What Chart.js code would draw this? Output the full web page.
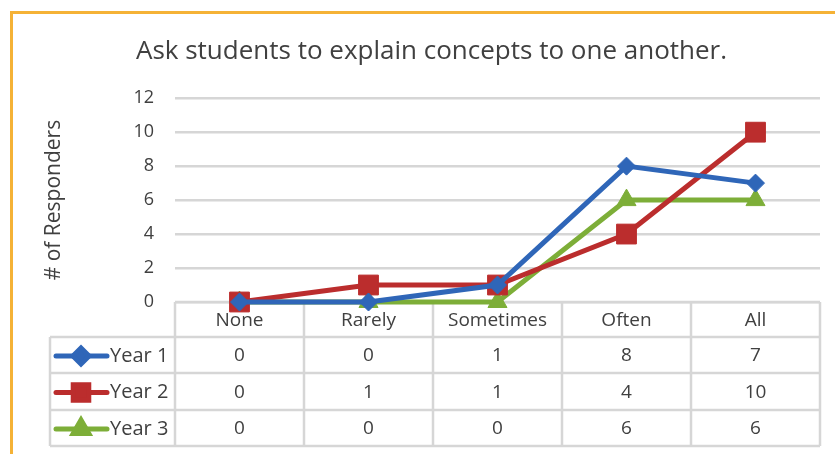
<!DOCTYPE html>
<html>
<head>
<meta charset="utf-8">
<script src="https://cdn.jsdelivr.net/npm/chart.js@4"></script>
<style>
  html, body { margin: 0; padding: 0; background: #fff; }
  #wrap { position: relative; width: 835px; height: 454px; }
  #frame { position: absolute; left: 10px; top: 11px; right: -5px; bottom: -5px;
           border-top: 3px solid #f5b236; border-left: 3px solid #f5b236; pointer-events: none; }
</style>
</head>
<body>
<div id="wrap">
  <canvas id="chart" width="835" height="454"></canvas>
  <div id="frame"></div>
</div>
<script>
const categories = ['None', 'Rarely', 'Sometimes', 'Often', 'All'];
const seriesNames = ['Year 1', 'Year 2', 'Year 3'];
const year1 = [0, 0, 1, 8, 7];
const year2 = [0, 1, 1, 4, 10];
const year3 = [0, 0, 0, 6, 6];
const yTicks = [0, 2, 4, 6, 8, 10, 12];

const FONT = "'Open Sans', sans-serif";
const TEXT = '#404040';
const GRID = '#d6d6d6';

const styles = [
  { color: '#2f66b8', pointStyle: 'rectRot', radius: 9, legendRadius: 8 },
  { color: '#bb2d2d', pointStyle: 'rect', radius: 14, legendRadius: 11 },
  { color: '#7dae38', pointStyle: 'triangle', radius: 11, legendRadius: 9 },
];

const seriesData = [year1, year2, year3];

// draws the data table under the plot, gridlines of the table included
const tablePlugin = {
  id: 'dataTable',
  beforeDatasetsDraw(chart) {
    const { ctx, chartArea: area, scales: { x } } = chart;
    const headTop = area.bottom;
    const rowLines = [headTop, headTop + 35, headTop + 71, headTop + 108, headTop + 144];
    const labelLeft = 50;
    const colW = (area.right - area.left) / categories.length;
    ctx.save();
    ctx.strokeStyle = GRID;
    ctx.lineWidth = 2.5;
    ctx.beginPath();
    // header row top (also the x axis line)
    ctx.moveTo(area.left, headTop); ctx.lineTo(area.right, headTop);
    for (let i = 1; i < rowLines.length; i++) {
      ctx.moveTo(labelLeft, rowLines[i]); ctx.lineTo(area.right, rowLines[i]);
    }
    for (let i = 0; i <= categories.length; i++) {
      const cx = area.left + i * colW;
      ctx.moveTo(cx, headTop); ctx.lineTo(cx, rowLines[4]);
    }
    ctx.moveTo(labelLeft, rowLines[1]); ctx.lineTo(labelLeft, rowLines[4]);
    ctx.stroke();

    ctx.fillStyle = TEXT;
    ctx.textAlign = 'center';
    ctx.textBaseline = 'middle';
    ctx.font = '19px ' + FONT;
    categories.forEach((c, i) => {
      ctx.fillText(c, x.getPixelForValue(i), (rowLines[0] + rowLines[1]) / 2 + 1);
    });

    seriesData.forEach((vals, r) => {
      const cy = (rowLines[r + 1] + rowLines[r + 2]) / 2 + 1;
      const st = styles[r];
      ctx.strokeStyle = st.color;
      ctx.lineWidth = 5;
      ctx.lineCap = 'round';
      ctx.beginPath();
      ctx.moveTo(56, cy); ctx.lineTo(107, cy);
      ctx.stroke();
      ctx.fillStyle = st.color;
      ctx.strokeStyle = st.color;
      Chart.helpers.drawPoint(ctx, { pointStyle: st.pointStyle, radius: st.legendRadius, rotation: 0, borderWidth: 1 }, 81, cy);
      ctx.fillStyle = TEXT;
      ctx.textAlign = 'left';
      ctx.font = '20px ' + FONT;
      ctx.fillText(seriesNames[r], 110, cy);
      ctx.textAlign = 'center';
      ctx.font = '19px ' + FONT;
      vals.forEach((v, i) => ctx.fillText(String(v), x.getPixelForValue(i), cy));
    });
    ctx.restore();
  }
};

new Chart(document.getElementById('chart'), {
  type: 'line',
  data: {
    labels: categories,
    datasets: seriesNames.map((name, i) => ({
      label: name,
      data: seriesData[i],
      borderColor: styles[i].color,
      backgroundColor: styles[i].color,
      pointStyle: styles[i].pointStyle,
      pointRadius: styles[i].radius,
      pointBorderWidth: 1,
      borderWidth: 5,
      tension: 0,
      clip: false,
    }))
  },
  options: {
    responsive: false,
    animation: false,
    layout: { padding: { left: 41, right: 13, top: 0, bottom: 152 } },
    scales: {
      x: { type: 'category', offset: true, display: false },
      y: {
        min: 0, max: 12,
        afterBuildTicks: s => { s.ticks = yTicks.map(v => ({ value: v })); },
        afterFit: s => { s.width = 134; },
        ticks: { color: TEXT, font: { family: FONT, size: 18 }, padding: 21 },
        grid: { color: GRID, lineWidth: 2.5, drawTicks: false },
        border: { display: false },
        title: { display: true, text: '# of Responders', color: TEXT, font: { family: FONT, size: 21 }, padding: 0 }
      }
    },
    plugins: {
      legend: { display: false },
      tooltip: { enabled: false },
      title: {
        display: true,
        text: 'Ask students to explain concepts to one another.',
        color: TEXT,
        font: { family: FONT, size: 26, weight: 'normal' },
        padding: { top: 36, bottom: 31 }
      }
    }
  },
  plugins: [tablePlugin]
});
</script>
</body>
</html>
